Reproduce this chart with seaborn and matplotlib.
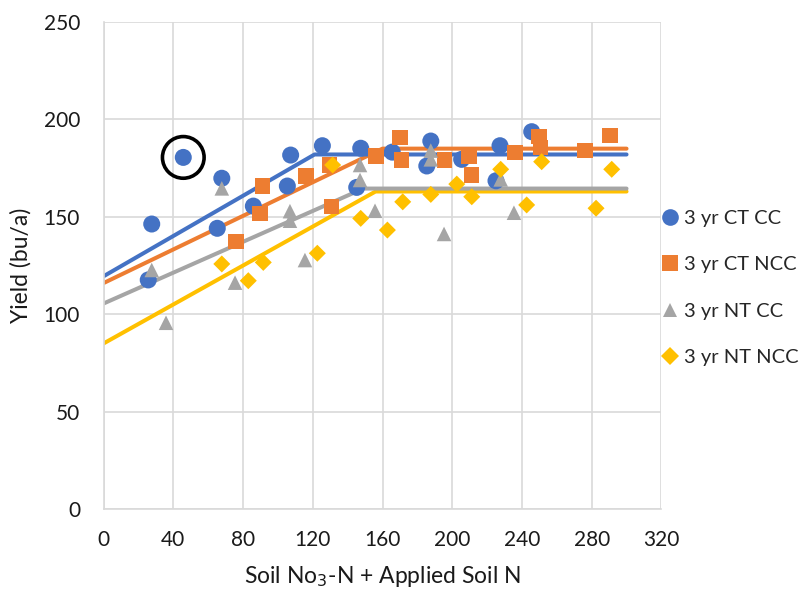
import matplotlib
matplotlib.use("Agg")
import matplotlib.pyplot as plt
from matplotlib.lines import Line2D
import seaborn as sns
import pandas as pd

sns.set_theme(style="white")
plt.rcParams['font.family'] = ['Lato', 'DejaVu Sans']

series_names = ["3 yr CT CC", "3 yr CT NCC", "3 yr NT CC", "3 yr NT NCC"]
colors = ["#4472C4", "#ED7D31", "#A5A5A5", "#FFC000"]
markers = ["o", "s", "^", "D"]
marker_sizes = [150, 120, 110, 75]

# Observed yields (bu/a) against soil NO3-N + applied N
ct_cc_x = [27.6, 25.6, 45.7, 65.2, 67.8, 85.9, 105.4, 107.3, 125.5, 145.2, 147.5,
           165.6, 185.4, 187.7, 205.4, 225.1, 227.4, 245.6]
ct_cc_y = [146.3, 117.6, 180.5, 144.1, 169.8, 155.5, 165.8, 181.7, 186.5, 165.1, 185.2,
           183.2, 176.1, 188.9, 179.5, 168.5, 186.5, 193.7]

ct_ncc_x = [76.0, 89.7, 91.3, 116.1, 129.5, 130.9, 156.3, 170.0, 171.0, 195.5, 209.6,
            211.2, 236.0, 249.8, 250.8, 276.2, 290.5]
ct_ncc_y = [137.2, 151.8, 165.8, 171.0, 176.6, 155.2, 181.2, 190.6, 179.2, 179.2, 181.2,
            171.5, 183.2, 191.1, 185.5, 183.9, 191.6]

nt_cc_x = [27.6, 35.8, 67.8, 75.4, 106.9, 106.9, 115.5, 147.1, 147.1, 155.7, 187.7,
           187.7, 195.3, 227.8, 235.4]
nt_cc_y = [122.7, 95.6, 164.6, 116.2, 152.9, 148.0, 127.8, 176.6, 168.9, 153.1, 184.0,
           179.5, 141.2, 169.2, 152.1]

nt_ncc_x = [67.8, 83.0, 91.6, 122.6, 131.4, 147.5, 162.8, 171.6, 187.7, 202.6, 211.2,
            227.8, 242.7, 251.3, 282.5, 291.5]
nt_ncc_y = [125.8, 117.2, 126.6, 131.3, 176.6, 149.2, 143.2, 157.7, 161.5, 166.8, 160.3,
            174.4, 156.1, 178.3, 154.4, 174.4]

# Linear-plateau fits: intercept, break point, plateau, end of fitted range
fit_intercept = [119.5, 116.0, 105.5, 85.0]
fit_break = [121.0, 160.0, 149.0, 156.0]
fit_plateau = [182.0, 185.0, 164.5, 163.0]
fit_end = 300.0

# Highlighted observation
flag_x, flag_y = 45.7, 180.5

xs = [ct_cc_x, ct_ncc_x, nt_cc_x, nt_ncc_x]
ys = [ct_cc_y, ct_ncc_y, nt_cc_y, nt_ncc_y]

fig = plt.figure(figsize=(8.02, 5.92), dpi=100)
ax = fig.add_axes([0.1292, 0.1402, 0.6955, 0.8226])

# fitted lines (drawn last-to-first so grey sits on yellow)
for i in reversed(range(4)):
    line_df = pd.DataFrame({
        "x": [0.0, fit_break[i], fit_end],
        "y": [fit_intercept[i], fit_plateau[i], fit_plateau[i]],
    })
    sns.lineplot(data=line_df, x="x", y="y", ax=ax, color=colors[i],
                 linewidth=2.9, solid_capstyle="round", zorder=2, legend=False)

for i in range(4):
    pts = pd.DataFrame({"x": xs[i], "y": ys[i]})
    sns.scatterplot(data=pts, x="x", y="y", ax=ax, color=colors[i], marker=markers[i],
                    s=marker_sizes[i], edgecolor="none", linewidth=0, zorder=3 + i,
                    legend=False)

ax.scatter([flag_x], [flag_y], s=900, facecolors="none", edgecolors="black",
           linewidths=2.6, zorder=10)

ax.set_xlim(0, 320)
ax.set_ylim(0, 250)
ax.set_xticks(range(0, 321, 40))
ax.set_yticks(range(0, 251, 50))
ax.grid(True, color="#D9D9D9", linewidth=1.2)
ax.set_axisbelow(True)
for side in ["top", "right"]:
    ax.spines[side].set_visible(False)
for side in ["left", "bottom"]:
    ax.spines[side].set_color("#D9D9D9")
    ax.spines[side].set_linewidth(1.2)
ax.tick_params(axis="both", length=0, labelsize=15, colors="#1a1a1a")
ax.tick_params(axis="y", pad=17)
ax.tick_params(axis="x", pad=15)

ax.set_xlabel("Soil No$_3$-N + Applied Soil N", fontsize=16.5, color="#1a1a1a", labelpad=10)
ax.set_ylabel("Yield (bu/a)", fontsize=16.5, color="#1a1a1a", labelpad=9)

handles = [Line2D([0], [0], marker=markers[i], linestyle="none", color=colors[i],
                  markersize=[12, 11, 10.5, 9][i], markeredgewidth=0)
           for i in range(4)]
fig.legend(handles, series_names, loc="upper left", bbox_to_anchor=(0.815, 0.659),
           frameon=False, fontsize=14.5, handlelength=0.8, handletextpad=0.3,
           labelspacing=1.45, borderaxespad=0)

fig.savefig("out.png", dpi=100, facecolor="white")
